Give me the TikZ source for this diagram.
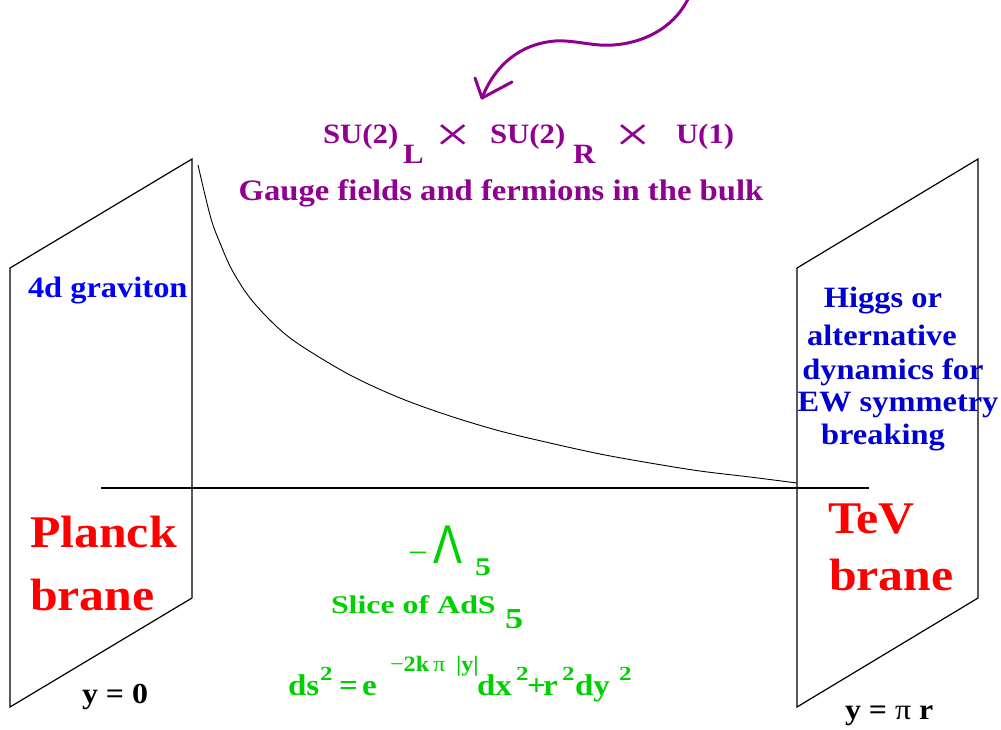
\documentclass[tikz,border=0pt]{standalone}
\usepackage{graphicx}
\usepackage{fontspec}
\setmainfont{Liberation Serif}
\newfontfamily\fA{Liberation Serif}[FakeStretch=1.1]
\newfontfamily\fG{Liberation Serif}[FakeStretch=1.25]
\newfontfamily\fS{Liberation Sans}
\definecolor{purp}{RGB}{144,0,144}
\definecolor{blueA}{RGB}{0,0,255}
\definecolor{blueB}{RGB}{0,0,208}
\definecolor{grn}{RGB}{0,208,0}
\definecolor{redA}{RGB}{255,0,0}
\tikzset{
  brane/.style={draw=black, line width=1.2pt, line join=miter},
  txt/.style={inner sep=0pt, outer sep=0pt, anchor=base west},
  ctxt/.style={inner sep=0pt, outer sep=0pt, anchor=base},
  purptxt/.style={text=purp, font=\fA\bfseries\fontsize{28}{34}\selectfont},
  timesym/.style={text=purp, inner sep=0pt, anchor=base, font=\fG\fontsize{50}{50}\selectfont},
  gaugetxt/.style={text=purp, font=\fA\bfseries\fontsize{29.7}{36}\selectfont},
  bluetxt/.style={text=blueA, font=\fA\bfseries\fontsize{29.5}{36}\selectfont},
  higgstxt/.style={text=blueB, font=\fA\bfseries\fontsize{29.5}{36}\selectfont},
  bigred/.style={text=redA, font=\fA\bfseries\fontsize{45.3}{50}\selectfont},
  blacktxt/.style={text=black, font=\fA\bfseries\fontsize{29}{34}\selectfont},
  grntxt/.style={text=grn, font=\fA\bfseries\fontsize{30}{36}\selectfont},
  grnsmall/.style={text=grn, font=\fG\bfseries\fontsize{20}{24}\selectfont},
  grnexp/.style={text=grn, font=\fA\bfseries\fontsize{22}{26}\selectfont},
  slicetxt/.style={text=grn, font=\fG\bfseries\fontsize{25.5}{30}\selectfont},
  arrowline/.style={draw=purp, line width=3pt, line cap=round, line join=round},
}
\begin{document}
\begin{tikzpicture}[x=1pt, y=-1pt]
\useasboundingbox (0,0) rectangle (1001,729);
% branes
\draw[brane] (10,268) -- (192,159) -- (192,598) -- (10,707) -- cycle;
\draw[brane] (797,268) -- (978,159) -- (978,598) -- (797,707) -- cycle;
% horizontal line
\coordinate (hl) at (101,488);
\coordinate (hr) at (869,488);
\draw[line width=1.2pt] (hl) -- (hr);
% warp factor curve
\draw[line width=0.9pt] plot[smooth, tension=0.55] coordinates {
 (198,165) (205,195) (212,222) (220,243) (232,270) (250,298) (275,325)
 (300,345) (350,375) (400,398) (450,416) (500,431) (550,443) (600,454)
 (650,463) (700,471) (750,477) (797,483)};
% purple arrow
\coordinate (as) at (688,-1);
\coordinate (tip) at (482,98);
\draw[arrowline] (as) .. controls (670,35) and (630,47) .. (600,45)
   .. controls (585,44) and (570,40) .. (555,41)
   .. controls (520,44) and (495,65) .. (tip);
\draw[arrowline] (tip) -- ++(-7,-20);
\draw[arrowline] (tip) -- ++(30,-16);
% gauge group
\node[txt, purptxt] (su1) at (323,143) {SU(2)};
\node[txt, purptxt] (l) at (403,163) {L};
\node[timesym] (x1) at (453,151) {×};
\node[txt, purptxt] (su2) at (490,143) {SU(2)};
\node[txt, purptxt] (r) at (573,163) {R};
\node[timesym] (x2) at (633,151) {×};
\node[txt, purptxt] (u1) at (676,143) {U(1)};
\node[ctxt, gaugetxt] (gauge) at (501,200) {Gauge fields and fermions in the bulk};
% left brane texts
\node[txt, bluetxt] (grav) at (28,297) {4d graviton};
\node[txt, bigred] (planck) at (30,547) {Planck};
\node[txt, bigred] (brane1) at (30,610) {brane};
\node[txt, blacktxt] (y0) at (82,703) {y = 0};
% right brane texts
\node[ctxt, higgstxt] (h1) at (883,307) {Higgs or};
\node[ctxt, higgstxt] (h2) at (882,345) {alternative};
\node[ctxt, higgstxt] (h3) at (893,379) {dynamics for};
\node[ctxt, higgstxt] (h4) at (898,411) {EW symmetry};
\node[ctxt, higgstxt] (h5) at (883,444) {breaking};
\node[txt, bigred] (tev) at (828,533) {TeV};
\node[txt, bigred] (brane2) at (829,590) {brane};
\node[txt, blacktxt] (ypr) at (845,719) {y = {\mdseries π} r};
% bulk texts
\node[text=grn, inner sep=0pt, anchor=base, font=\fA\fontsize{32}{32}\selectfont] (minus) at (418,563) {−};
\node[text=grn, inner sep=0pt, anchor=center, font=\fS\fontsize{28}{28}\selectfont] (lam) at (448,545) {\scalebox{1.55}[1.95]{Λ}};
\node[txt, slicetxt] (l5) at (475,575) {5};
\node[txt, slicetxt] (slice) at (331,613) {Slice of AdS};
\node[txt, text=grn, font=\fG\bfseries\fontsize{29}{30}\selectfont] (s5) at (505,628) {5};
% metric
\node[txt, grntxt] (ds) at (288,695) {ds};
\node[txt, grnsmall] (sq1) at (320,680) {2};
\node[txt, grntxt] (eq) at (339,695) {=};
\node[txt, grntxt] (e) at (362,695) {e};
\node[txt, grnexp] (ex1) at (390,671) {{\mdseries −}2k};
\node[txt, text=grn, font=\fA\fontsize{22}{26}\selectfont] (ex2) at (433,671) {π};
\node[txt, grnexp] (ex3) at (456,671) {|y|};
\node[txt, grntxt] (dx) at (477,695) {dx};
\node[txt, grnsmall] (sq2) at (516,680) {2};
\node[txt, grntxt] (plus) at (527,695) {+};
\node[txt, grntxt] (rr) at (543,695) {r};
\node[txt, grnsmall] (sq3) at (562,680) {2};
\node[txt, grntxt] (dy) at (575,695) {dy};
\node[txt, grnsmall] (sq4) at (619,680) {2};
\end{tikzpicture}
\end{document}
